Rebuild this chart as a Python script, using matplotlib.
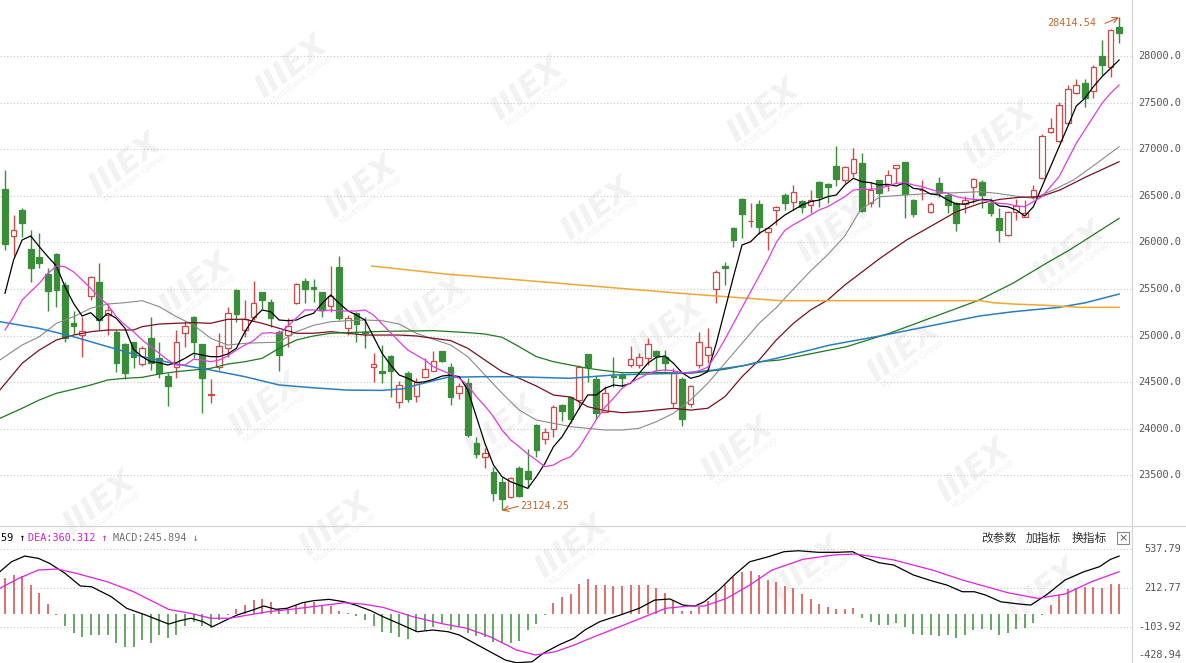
import matplotlib
matplotlib.use("Agg")
import matplotlib.pyplot as plt
import matplotlib.transforms as mtransforms
from matplotlib.lines import Line2D
import numpy as np

# ---- daily candles (index 0 = leftmost bar) ----
opens = [26570, 26070, 26350, 25930, 25840, 25660, 25880, 25540, 25140, 25010,
         25420, 25570, 25220, 25040, 24910, 24930, 24700, 24970, 24760, 24570,
         24660, 25025, 25200, 24905, 24365, 24665, 24865, 25490, 25060, 25200,
         25465, 25365, 25040, 25005, 25345, 25590, 25520, 25465, 25320, 25740,
         25080, 25240, 25040, 24660, 24620, 24780, 24290, 24595, 24350, 24560,
         24625, 24830, 24665, 24380, 24490, 23845, 23695, 23540, 23425, 23270,
         23575, 23550, 24040, 23890, 23995, 24255, 24345, 24310, 24800, 24530,
         24185, 24565, 24580, 24685, 24685, 24755, 24830, 24775, 24275, 24530,
         24265, 24685, 24790, 25495, 25745, 26150, 26470, 26225, 26410, 26115,
         26350, 26510, 26435, 26445, 26400, 26650, 26625, 26820, 26670, 26750,
         26850, 26420, 26670, 26615, 26800, 26865, 26455, 26560, 26330, 26640,
         26510, 26420, 26412, 26598, 26651, 26426, 26258, 26079, 26329, 26276,
         26484, 26688, 27188, 27091, 27278, 27606, 27707, 27628, 28000, 27885,
         28308]
highs = [26780, 26290, 26370, 26130, 26100, 25720, 25890, 25580, 25260, 25200,
         25640, 25780, 25350, 25060, 24920, 24935, 24890, 25200, 24935, 24600,
         25060, 25160, 25210, 24910, 24530, 25025, 25310, 25500, 25380, 25590,
         25470, 25390, 25060, 25185, 25560, 25615, 25605, 25470, 25750, 25850,
         25220, 25255, 25200, 24810, 24900, 24790, 24515, 24615, 24540, 24755,
         24830, 24830, 24705, 24495, 24540, 23915, 23790, 23590, 23485, 23485,
         23600, 23780, 24050, 24005, 24255, 24265, 24345, 24685, 24805, 24565,
         24460, 24770, 24595, 24890, 24810, 24970, 24845, 24845, 24650, 24560,
         24470, 25040, 25080, 25705, 25795, 26170, 26475, 26425, 26450, 26150,
         26390, 26525, 26615, 26455, 26560, 26660, 26635, 27035, 26820, 27010,
         26955, 26650, 26670, 26775, 26830, 26866, 26462, 26670, 26437, 26705,
         26527, 26437, 26498, 26688, 26670, 26473, 26366, 26340, 26462, 26455,
         26616, 27163, 27332, 27510, 27689, 27750, 27750, 27903, 28172, 28286,
         28414.54]
lows = [25920, 25850, 26060, 25570, 25720, 25260, 25310, 24930, 25020, 24770,
        25380, 25060, 25010, 24610, 24530, 24650, 24670, 24630, 24540, 24245,
        24540, 24880, 24756, 24170, 24280, 24630, 24775, 25150, 24990, 25170,
        25290, 25095, 24625, 24880, 25340, 25345, 25365, 25200, 25255, 25165,
        25005, 24935, 24865, 24505, 24490, 24345, 24220, 24290, 24290, 24540,
        24615, 24720, 24255, 24315, 23915, 23685, 23575, 23230, 23124.25, 23255,
        23270, 23360, 23700, 23835, 23915, 24085, 24060, 24210, 24505, 24110,
        24175, 24450, 24450, 24660, 24650, 24685, 24615, 24625, 24235, 24030,
        24235, 24650, 24705, 25345, 25545, 25955, 26045, 26170, 26090, 25920,
        26190, 26350, 26350, 26320, 26320, 26385, 26420, 26600, 26635, 26705,
        26330, 26375, 26385, 26555, 26640, 26260, 26275, 26455, 26312, 26490,
        26312, 26126, 26312, 26419, 26366, 26283, 26007, 26069, 26240, 26270,
        26462, 26677, 27171, 27080, 27270, 27590, 27456, 27546, 27796, 27778,
        28143]
closes = [25980, 26130, 26210, 25730, 25780, 25480, 25490, 24970, 25100, 25050,
          25630, 25170, 25270, 24710, 24600, 24770, 24870, 24710, 24600, 24460,
          24935, 25105, 24935, 24540, 24375, 24890, 25240, 25230, 25175, 25345,
          25380, 25185, 24790, 25100, 25555, 25500, 25500, 25280, 25425, 25185,
          25185, 25125, 25025, 24690, 24595, 24625, 24470, 24315, 24505, 24640,
          24730, 24727, 24345, 24460, 23935, 23725, 23737, 23315, 23245, 23470,
          23280, 23460, 23770, 23970, 24235, 24195, 24110, 24660, 24660, 24165,
          24380, 24555, 24545, 24745, 24775, 24915, 24780, 24705, 24595, 24110,
          24460, 24935, 24880, 25685, 25730, 26025, 26310, 26235, 26170, 26150,
          26375, 26420, 26545, 26375, 26455, 26490, 26590, 26680, 26810, 26890,
          26340, 26560, 26535, 26725, 26830, 26515, 26310, 26565, 26412, 26527,
          26401, 26211, 26455, 26677, 26509, 26312, 26133, 26329, 26391, 26312,
          26562, 27142, 27224, 27474, 27643, 27689, 27546, 27879, 27903, 28279,
          28244]

# ---- moving averages ----
ma5 = [25454, 25811, 26026, 26069, 25954, 25847, 25747, 25525, 25346, 25210,
       25246, 25160, 25239, 25185, 25078, 24853, 24774, 24720, 24709, 24684,
       24709, 24756, 24810, 24792, 24774, 24774, 24803, 24864, 25042, 25185,
       25275, 25256, 25167, 25160, 25167, 25210, 25239, 25346, 25436, 25346,
       25267, 25221, 25167, 24988, 24810, 24684, 24577, 24542, 24495, 24505,
       24531, 24566, 24577, 24559, 24416, 24130, 23844, 23611, 23486, 23432,
       23397, 23361, 23486, 23629, 23808, 23915, 24065, 24220, 24363, 24363,
       24434, 24470, 24459, 24488, 24595, 24703, 24767, 24781, 24703, 24602,
       24542, 24566, 24613, 24917, 25275, 25632, 25972, 26007, 26098, 26151,
       26222, 26294, 26348, 26401, 26437, 26455, 26491, 26509, 26616, 26688,
       26651, 26641, 26616, 26623, 26605, 26641, 26580, 26569, 26519, 26509,
       26455, 26412, 26412, 26437, 26462, 26455, 26391, 26383, 26348, 26283,
       26383, 26598, 26813, 27027, 27242, 27463, 27546, 27671, 27778, 27868,
       27957]
ma10 = [25060, 25203, 25382, 25471, 25561, 25668, 25747, 25739, 25685, 25596,
        25507, 25411, 25328, 25203, 25114, 25042, 24953, 24881, 24810, 24738,
        24684, 24684, 24746, 24738, 24720, 24738, 24781, 24845, 24899, 24946,
        25025, 25032, 25017, 25103, 25190, 25275, 25275, 25264, 25275, 25264,
        25264, 25264, 25275, 25221, 25124, 25032, 24935, 24845, 24792, 24738,
        24666, 24624, 24588, 24542, 24470, 24344, 24244, 24130, 23987, 23880,
        23808, 23730, 23665, 23593, 23611, 23665, 23700, 23800, 23950, 24100,
        24230, 24327, 24434, 24495, 24542, 24588, 24624, 24631, 24624, 24602,
        24595, 24624, 24660, 24800, 24960, 25130, 25300, 25470, 25640, 25810,
        26000, 26130, 26190, 26240, 26294, 26348, 26383, 26437, 26491, 26562,
        26569, 26569, 26580, 26605, 26634, 26641, 26616, 26598, 26569, 26544,
        26527, 26491, 26473, 26462, 26455, 26437, 26419, 26412, 26391, 26383,
        26437, 26491, 26598, 26705, 26884, 27063, 27206, 27349, 27492, 27600,
        27689]
ma20_x = [-0.6, 2, 4, 6, 8, 10, 12, 14, 16, 18, 20, 22, 24, 26, 28, 30, 32, 34,
          36, 38, 40, 42, 44, 46, 48, 50, 52, 54, 56, 58, 60, 62, 64, 66, 68, 70,
          72, 74, 76, 78, 80, 82, 84, 86, 88, 90, 92, 94, 96, 98, 99.8, 102.1,
          105.2, 108.3, 111, 113.8, 115.7, 118.4, 120, 122.3, 124.7, 127.4, 130]
ma20_y = [24738, 24899, 24988, 25132, 25203, 25293, 25339, 25353, 25375, 25310,
          25203, 25114, 24971, 24899, 24917, 24924, 24930, 25042, 25110, 25149,
          25160, 25167, 25160, 25124, 25025, 24960, 24899, 24774, 24577, 24381,
          24201, 24094, 24059, 24023, 24005, 23987, 23987, 24005, 24076, 24166,
          24309, 24488, 24703, 24917, 25132, 25300, 25500, 25693, 25868, 26070,
          26348, 26490, 26509, 26527, 26533, 26544, 26527, 26491, 26473, 26562,
          26670, 26849, 27027]
ma30_x = [-0.6, 2, 4, 6, 8, 10, 12, 15, 16, 18, 20, 22, 24, 26, 28, 30, 32, 34,
          36, 38, 40, 42, 46, 48, 50, 52, 54, 56, 58, 60, 62, 64, 66, 68, 70, 72,
          74, 76, 78, 80, 82, 84, 86, 88, 90, 92, 94, 96, 98, 102.1, 105.2,
          108.3, 111, 113.8, 116.1, 118.4, 120.8, 123.1, 126.2, 130]
ma30_y = [24416, 24703, 24845, 24953, 25006, 25042, 25060, 25060, 25096, 25124,
          25132, 25139, 25132, 25175, 25175, 25132, 25078, 25025, 25025, 25042,
          25025, 25006, 25006, 24996, 24971, 24946, 24864, 24738, 24613, 24542,
          24459, 24362, 24341, 24237, 24194, 24173, 24183, 24201, 24220, 24201,
          24220, 24344, 24559, 24738, 24953, 25132, 25275, 25382, 25543, 25829,
          26026, 26187, 26329, 26419, 26462, 26484, 26491, 26562, 26705, 26866]
ma60_x = [-0.6, 2, 4, 6, 8, 10, 12, 14, 16, 18, 20, 22, 24, 26, 28, 30, 32, 34,
          36, 38, 40, 44, 50, 54, 56, 58, 60, 62, 64, 66, 68, 70, 72, 76, 80, 84,
          86, 88, 90.4, 94.3, 98.2, 103.2, 107.9, 113.7, 117.6, 121.5, 124.2, 130]
ma60_y = [24112, 24220, 24309, 24381, 24424, 24470, 24524, 24542, 24552, 24588,
          24613, 24631, 24649, 24695, 24720, 24756, 24864, 24953, 24996, 25025,
          25032, 25045, 25053, 25032, 25017, 24982, 24881, 24774, 24720, 24684,
          24649, 24624, 24602, 24606, 24595, 24638, 24674, 24720, 24738, 24810,
          24881, 25025, 25185, 25382, 25561, 25776, 25918, 26258]
ma120_x = [-0.6, 4, 8, 12, 16, 20, 24, 28, 32, 36, 40, 44, 46.5, 48, 51.6, 55.5,
           59.4, 65.9, 71, 74.9, 78.8, 82.7, 86.6, 90.4, 96.3, 102.1, 107.9,
           113.7, 117.6, 123, 126.1, 130]
ma120_y = [25149, 25078, 24988, 24881, 24774, 24695, 24631, 24559, 24470, 24440,
           24415, 24412, 24430, 24470, 24552, 24559, 24559, 24542, 24577, 24588,
           24595, 24631, 24684, 24765, 24899, 24996, 25103, 25210, 25256, 25303,
           25353, 25446]
ma250_x = [42.8, 51.5, 55.4, 67.1, 78.8, 90.4, 113.8, 115.3, 117.6, 121.5, 125.4, 130]
ma250_y = [25747, 25660, 25632, 25543, 25454, 25375, 25375, 25353, 25339, 25325,
           25303, 25303]

# ---- MACD (12,26,9) ----
macd_hist = [294, 322, 313, 239, 171, 82, -5, -99, -154, -187,
             -173, -173, -173, -237, -270, -270, -215, -237, -173, -200,
             -173, -99, -63, -99, -118, -50, -5, 41, 74, 115,
             124, 101, 38, 38, 74, 88, 101, 74, 66, 22,
             5, -16, -50, -99, -146, -160, -193, -209, -146, -132,
             -105, -72, -132, -99, -160, -181, -187, -228, -237, -242,
             -220, -132, -82, -5, 93, 138, 165, 248, 286, 239,
             239, 231, 231, 239, 239, 239, 212, 176, 115, 27,
             22, 55, 110, 171, 239, 303, 349, 357, 322, 281,
             267, 231, 212, 165, 121, 82, 55, 38, 38, 47,
             -36, -63, -91, -91, -77, -110, -165, -173, -173, -181,
             -173, -200, -173, -132, -126, -132, -173, -154, -126, -118,
             -77, -5, 74, 157, 204, 212, 225, 225, 212, 248,
             248]
dif_x = [-0.6, 0.76, 2.3, 3.9, 5.2, 7, 8.8, 10.1, 12.4, 14.2, 16.4, 17.7, 19.1,
         20.4, 21.7, 23.1, 24.2, 25.8, 27.1, 28.9, 30.2, 31.6, 32.9, 34.7, 36,
         37.8, 39.6, 40.9, 42.7, 44.1, 45.9, 48.1, 49.9, 51.7, 53, 54.8, 56.6,
         58.4, 59.7, 61.5, 62.8, 64.6, 66.4, 67.7, 69.4, 71.8, 74, 75.8, 77.6,
         79.1, 80.5, 81.6, 83.3, 85.1, 86.9, 89.1, 90.9, 92.6, 94.9, 97.1, 98.9,
         100.2, 102, 103.7, 106, 108.2, 109.9, 111.7, 113.1, 114.4, 116.2, 118.4,
         119.7, 121.5, 123.7, 125.9, 127.7, 129, 130]
dif_y = [349, 431, 478, 459, 418, 336, 231, 225, 143, 47, -8, -44, -83,
         -55, -35, -63, -105, -50, -8, 33, 66, 39, 47, 93, 110,
         121, 101, 74, 27, -22, -77, -146, -132, -146, -173, -242, -311,
         -380, -402, -394, -324, -256, -200, -130, -63, -8, 47, 115, 124,
         74, 66, 101, 198, 322, 431, 473, 514, 522, 509, 509, 514,
         468, 423, 404, 322, 272, 239, 184, 184, 157, 101, 82,
         74, 157, 281, 349, 390, 451, 478]
dea_x = [-0.6, 1.6, 3.9, 6.1, 8.3, 11.9, 15, 19.1, 21.7, 24, 26.2, 28.4, 30.7,
         33.4, 36.5, 39.6, 41.8, 44.1, 47.6, 50.8, 53.9, 56.6, 59.7, 61.9, 64.2,
         66.4, 68.3, 72.7, 77.1, 79.8, 81.6, 84.2, 86.9, 89.5, 93.1, 96.7, 99.3,
         103.7, 108.2, 111.7, 117, 120.5, 123.7, 126.8, 130]
dea_y = [212, 294, 363, 371, 336, 267, 184, 38, 5, -35, -35, -8, 19,
         39, 66, 93, 82, 55, -22, -77, -118, -187, -297, -338, -311,
         -256, -200, -77, 47, 66, 66, 129, 239, 363, 451, 487, 495,
         446, 363, 281, 176, 129, 165, 267, 349]

price_ticks = [23500, 24000, 24500, 25000, 25500, 26000, 26500, 27000, 27500, 28000]
macd_ticks = [537.79, 212.77, -103.92]

RED = '#d24848'
GREEN = '#3a8e3a'
NOTE = '#c8642a'
W, H = 1186, 663

fig = plt.figure(figsize=(W / 100, H / 100), dpi=100)
fig.patch.set_facecolor('white')
ax = fig.add_axes([0, 137 / H, 1132 / W, 526 / H])
ax2 = fig.add_axes([0, 0, 1132 / W, 137 / H])
for a in (ax, ax2):
    a.axis('off')
    a.set_xlim(-0.583, -0.583 + 1132 / 8.57)
ax.set_ylim(22957, 28601)
ax2.set_ylim(-404, 726)

# faint logo watermark, tiled diagonally (only tiles that fit inside the picture)
for m in range(-3, 6):
    for n in range(-1, 6):
        px = 55 + 236 * m + 70 * n
        py = 45 + 22 * m + 120 * n
        if 50 < px < W - 60 and 45 < py < H - 50:
            fig.text(px / W, 1 - py / H, 'IIIEX', fontsize=23, fontweight='bold',
                     fontstyle='italic', color='#f2f2f2', rotation=38,
                     ha='center', va='center', zorder=-2)
            fig.text((px + 10) / W, 1 - (py + 13) / H, 'MultiBank Group', fontsize=6.5,
                     color='#f2f2f2', rotation=38, ha='center', va='center', zorder=-2)

# grid lines
for v in price_ticks:
    ax.axhline(v, color='#c8c8c8', lw=0.8, ls=(0, (1, 2)), zorder=0)
for v in macd_ticks:
    ax2.axhline(v, color='#c8c8c8', lw=0.8, ls=(0, (1, 2)), zorder=0)

# candles
x = np.arange(len(closes))
o, h, l, c = map(np.array, (opens, highs, lows, closes))
up = c >= o
cols = np.where(up, RED, GREEN)
ax.vlines(x, l, h, colors=cols, lw=1.0, zorder=2)
ax.bar(x, np.abs(c - o), bottom=np.minimum(o, c), width=0.66,
       facecolor=np.where(up, 'white', GREEN), edgecolor=cols, lw=0.9, zorder=3)

# moving averages
ax.plot(x, ma5, color='black', lw=0.9, zorder=5)
ax.plot(x, ma10, color='#e03ce0', lw=0.9, zorder=5)
ax.plot(ma20_x, ma20_y, color='#8a8a8a', lw=0.8, zorder=4)
ax.plot(ma30_x, ma30_y, color='#7a1020', lw=0.9, zorder=4)
ax.plot(ma60_x, ma60_y, color='#1e7a1e', lw=0.9, zorder=4)
ax.plot(ma120_x, ma120_y, color='#2a7fc0', lw=1.1, zorder=4)
ax.plot(ma250_x, ma250_y, color='#f0a830', lw=1.1, zorder=4)

# high / low markers
ax.annotate('', xy=(x[-1], h[-1]), xytext=(-14, -6), textcoords='offset pixels',
            arrowprops=dict(arrowstyle='->', color=NOTE, lw=0.8, shrinkA=0, shrinkB=0))
ax.annotate('%.2f' % h[-1], xy=(x[-1], h[-1]), xytext=(-23, -6), textcoords='offset pixels',
            ha='right', va='center', color=NOTE, fontsize=7.3, family='DejaVu Sans Mono')
lo = int(np.argmin(l))
ax.annotate('', xy=(lo, l[lo]), xytext=(16, 4), textcoords='offset pixels',
            arrowprops=dict(arrowstyle='->', color=NOTE, lw=0.8, shrinkA=0, shrinkB=0))
ax.annotate('%.2f' % l[lo], xy=(lo, l[lo]), xytext=(18, 4), textcoords='offset pixels',
            ha='left', va='center', color=NOTE, fontsize=7.3, family='DejaVu Sans Mono')

# right side price labels
tr = mtransforms.blended_transform_factory(ax.transAxes, ax.transData)
for v in price_ticks:
    ax.text(1181 / 1132, v, '%.1f' % v, transform=tr, ha='right', va='center',
            fontsize=7.4, color='#555555', family='DejaVu Sans Mono', clip_on=False)

# MACD panel
hist = np.array(macd_hist)
ax2.vlines(x, 0, hist, colors=np.where(hist >= 0, RED, GREEN), lw=1.1, zorder=2)
ax2.plot(dif_x, dif_y, color='black', lw=0.9, zorder=4)
ax2.plot(dea_x, dea_y, color='#e020e0', lw=0.9, zorder=4)
tr2 = mtransforms.blended_transform_factory(ax2.transAxes, ax2.transData)
for v in macd_ticks:
    ax2.text(1181 / 1132, v, '%.2f' % v, transform=tr2, ha='right', va='center',
             fontsize=7.4, color='#555555', family='DejaVu Sans Mono', clip_on=False)
ax2.text(1181 / 1132, 8 / 137, '-428.94', transform=ax2.transAxes, ha='right', va='center',
         fontsize=7.4, color='#555555', family='DejaVu Sans Mono', clip_on=False)

# panel frame lines
fig.add_artist(Line2D([0, 1], [137 / H, 137 / H], color='#d4d4d4', lw=0.9))
fig.add_artist(Line2D([1132 / W, 1132 / W], [0, 1], color='#d4d4d4', lw=0.9))

# MACD legend and toolbar
ly = 1 - 538 / H
fig.text(1 / W, ly, '59 ↑', color='black', fontsize=7.3, family='DejaVu Sans Mono', va='center')
fig.text(28 / W, ly, 'DEA:360.312 ↑', color='#d020d0', fontsize=7.3,
         family='DejaVu Sans Mono', va='center')
fig.text(113 / W, ly, 'MACD:245.894 ↓', color='#707070', fontsize=7.3,
         family='DejaVu Sans Mono', va='center')
for px, s in [(981, '改参数'), (1026, '加指标'), (1072, '换指标')]:
    fig.text(px / W, ly, s, color='#333333', fontsize=8.5,
             family=['Noto Sans CJK SC', 'DejaVu Sans'], va='center')
fig.text(1123 / W, ly, '×', color='#555555', fontsize=8, ha='center', va='center',
         bbox=dict(boxstyle='square,pad=0.12', fc='white', ec='#888888', lw=0.8))

fig.savefig('out.png', dpi=100)
